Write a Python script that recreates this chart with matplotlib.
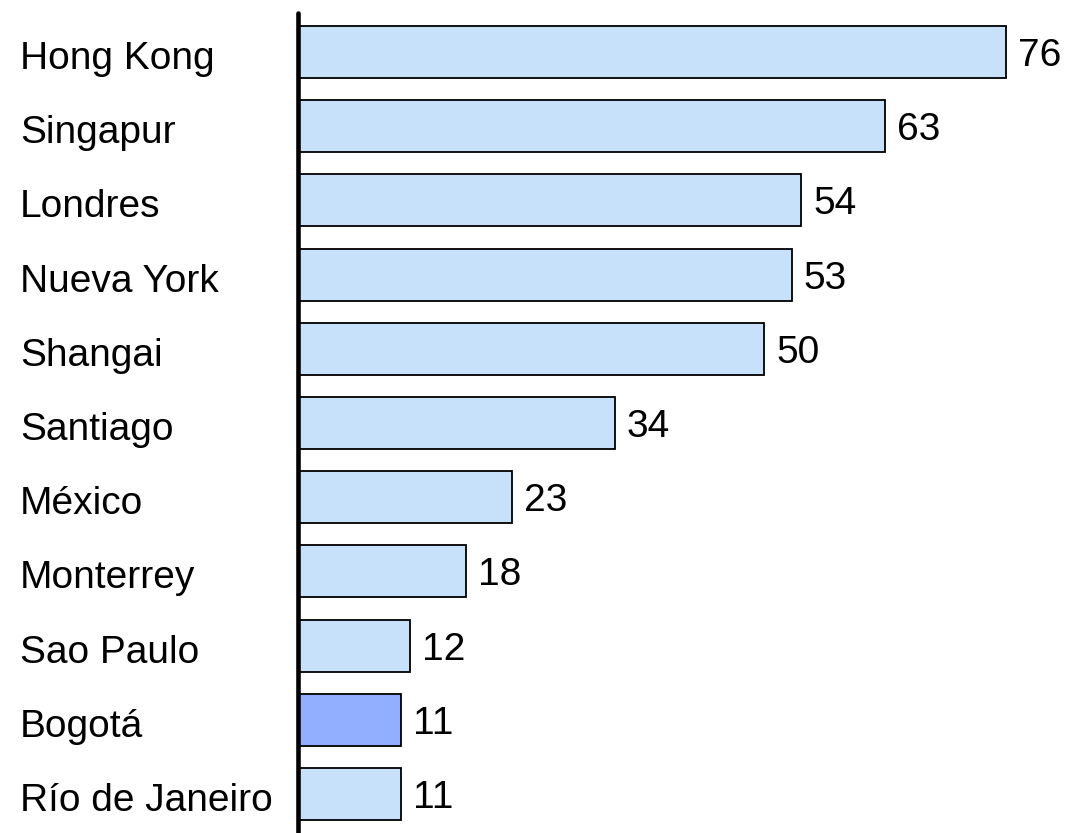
import matplotlib.pyplot as plt
import matplotlib.transforms as mtransforms

# Ciudades y valores del indicador
ciudades = ["Hong Kong", "Singapur", "Londres", "Nueva York", "Shangai", "Santiago",
            "México", "Monterrey", "Sao Paulo", "Bogotá", "Río de Janeiro"]
valores = [76, 63, 54, 53, 50, 34, 23, 18, 12, 11, 11]
destacada = "Bogotá"

color_base = "#C7E1FA"
color_destacado = "#92AFFF"

plt.rcParams["font.family"] = ["Liberation Sans", "DejaVu Sans"]

fig = plt.figure(figsize=(10.66, 8.33), dpi=100)
ax = fig.add_axes([298 / 1066, 0, 1 - 298 / 1066, 1 - 13 / 833])

colores = [color_destacado if c == destacada else color_base for c in ciudades]
pos = list(range(len(ciudades)))
ax.barh(pos, valores, height=0.70, color=colores, edgecolor="black", linewidth=1.3, zorder=2)

ax.set_ylim(len(ciudades) - 0.5 + 0.026, -0.526)
ax.set_xlim(0, 768 / 9.32)

# Etiquetas de valor al final de cada barra
for p, v in zip(pos, valores):
    ax.annotate(str(v), (v, p), xytext=(12, 0), textcoords="offset pixels",
                ha="left", va="center_baseline", fontsize=28)

# Nombres de las ciudades alineados a la izquierda
trans = mtransforms.blended_transform_factory(fig.transFigure, ax.transData)
for p, c in zip(pos, ciudades):
    ax.annotate(c, (20 / 1066, p), xycoords=trans, xytext=(0, -3),
                textcoords="offset pixels", ha="left", va="center_baseline",
                fontsize=28, annotation_clip=False)

for lado in ["top", "right", "bottom"]:
    ax.spines[lado].set_visible(False)
ax.spines["left"].set_linewidth(3.3)
ax.spines["left"].set_capstyle("round")
ax.spines["left"].set_zorder(3)
ax.set_xticks([])
ax.set_yticks([])

fig.savefig("out.png", dpi=100)
